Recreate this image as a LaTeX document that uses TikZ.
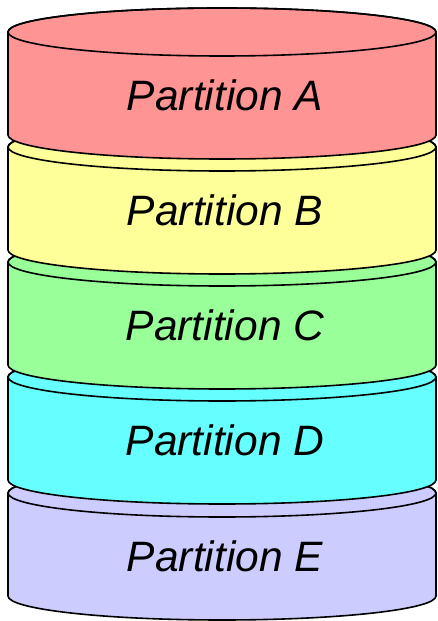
\documentclass[tikz,border=0pt]{standalone}
\usepackage{fontspec}
\newfontfamily\labfont{Liberation Sans}
\definecolor{cA}{HTML}{FF9494}
\definecolor{cB}{HTML}{FFFF99}
\definecolor{cC}{HTML}{99FF99}
\definecolor{cD}{HTML}{66FFFF}
\definecolor{cE}{HTML}{CCCCFF}
\newcommand\drawcyl[4]{%
  \path[cylbody,fill=#2] (8,#1) -- (8,{#1-103})
    arc[start angle=180,end angle=360,x radius=214,y radius=24]
    -- (436,#1) arc[start angle=0,end angle=180,x radius=214,y radius=24] -- cycle;
  \draw[cylline] (222,#1) ellipse[x radius=214,y radius=24];
  \node[lab] (#4) at (225,{#1-63}) {#3};
}
\begin{document}
\begin{tikzpicture}[x=1pt,y=1pt,
  cylbody/.style={draw=black,line width=1.6pt,line join=round},
  cylline/.style={draw=black,line width=1.6pt},
  lab/.style={font=\labfont\itshape\fontsize{42.5}{50}\selectfont,inner sep=0pt}]
\useasboundingbox (0,0) rectangle (437,621);
\drawcyl{128}{cE}{Partition E}{pE}
\drawcyl{244}{cD}{Partition D}{pD}
\drawcyl{359}{cC}{Partition C}{pC}
\drawcyl{474}{cB}{Partition B}{pB}
\drawcyl{589}{cA}{Partition A}{pA}
\end{tikzpicture}
\end{document}
